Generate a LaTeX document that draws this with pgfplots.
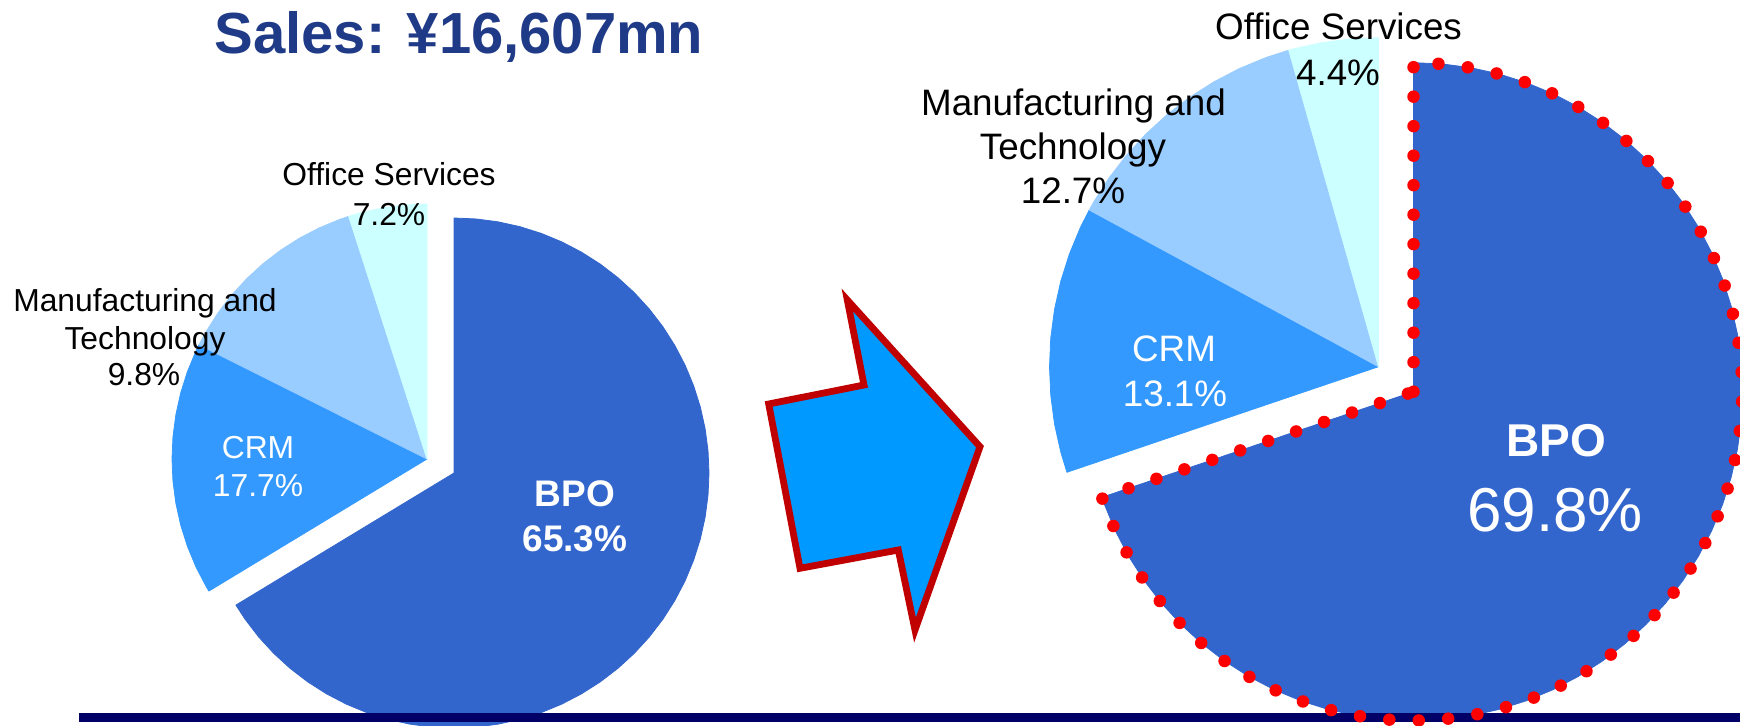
\documentclass[border=0pt]{standalone}
\usepackage{pgfplots}
\usepackage{pgfplotstable}
\pgfplotsset{compat=1.18}
\usepackage{fontspec}
\setmainfont{Liberation Sans}

\definecolor{bpo}{HTML}{3366CC}
\definecolor{crm}{HTML}{3399FF}
\definecolor{mfg}{HTML}{99CCFF}
\definecolor{ofc}{HTML}{CCFFFF}
\definecolor{titleblue}{HTML}{1F3A87}
\definecolor{rulenavy}{HTML}{000066}
\definecolor{arrowfill}{HTML}{0099FF}
\definecolor{arrowline}{HTML}{C00000}

% slices as (angle, radius), clockwise from 12 o'clock
% left pie, as drawn: BPO 238.8 deg, CRM 57.8, Mfg & Tech 45.5, Office 17.9
\pgfplotstableread[row sep=\\]{a r\\ 0 0\\ 90 1\\ 85 1\\ 80 1\\ 75 1\\ 70 1\\ 65 1\\ 60 1\\ 55 1\\ 50 1\\ 45 1\\ 40 1\\ 35 1\\ 30 1\\ 25 1\\ 20 1\\ 15 1\\ 10 1\\ 5 1\\ 0 1\\ -5 1\\ -10 1\\ -15 1\\ -20 1\\ -25 1\\ -30 1\\ -35 1\\ -40 1\\ -45 1\\ -50 1\\ -55 1\\ -60 1\\ -65 1\\ -70 1\\ -75 1\\ -80 1\\ -85 1\\ -90 1\\ -95 1\\ -100 1\\ -105 1\\ -110 1\\ -115 1\\ -120 1\\ -125 1\\ -130 1\\ -135 1\\ -140 1\\ -145 1\\ -148.8 1\\}\bpoL
\pgfplotstableread[row sep=\\]{a r\\ 0 0\\ -148.8 1\\ -150 1\\ -155 1\\ -160 1\\ -165 1\\ -170 1\\ -175 1\\ -180 1\\ -185 1\\ -190 1\\ -195 1\\ -200 1\\ -205 1\\ -206.6 1\\}\crmL
\pgfplotstableread[row sep=\\]{a r\\ 0 0\\ -206.6 1\\ -210 1\\ -215 1\\ -220 1\\ -225 1\\ -230 1\\ -235 1\\ -240 1\\ -245 1\\ -250 1\\ -252.1 1\\}\mfgL
\pgfplotstableread[row sep=\\]{a r\\ 0 0\\ -252.1 1\\ -255 1\\ -260 1\\ -265 1\\ -270 1\\}\ofcL

% right pie: BPO 69.8, CRM 13.1, Mfg & Tech 12.7, Office 4.4
\pgfplotstableread[row sep=\\]{a r\\ 0 0\\ 90 1\\ 85 1\\ 80 1\\ 75 1\\ 70 1\\ 65 1\\ 60 1\\ 55 1\\ 50 1\\ 45 1\\ 40 1\\ 35 1\\ 30 1\\ 25 1\\ 20 1\\ 15 1\\ 10 1\\ 5 1\\ 0 1\\ -5 1\\ -10 1\\ -15 1\\ -20 1\\ -25 1\\ -30 1\\ -35 1\\ -40 1\\ -45 1\\ -50 1\\ -55 1\\ -60 1\\ -65 1\\ -70 1\\ -75 1\\ -80 1\\ -85 1\\ -90 1\\ -95 1\\ -100 1\\ -105 1\\ -110 1\\ -115 1\\ -120 1\\ -125 1\\ -130 1\\ -135 1\\ -140 1\\ -145 1\\ -150 1\\ -155 1\\ -160 1\\ -161.28 1\\}\bpoR
\pgfplotstableread[row sep=\\]{a r\\ 0 0\\ -161.28 1\\ -165 1\\ -170 1\\ -175 1\\ -180 1\\ -185 1\\ -190 1\\ -195 1\\ -200 1\\ -205 1\\ -208.44 1\\}\crmR
\pgfplotstableread[row sep=\\]{a r\\ 0 0\\ -208.44 1\\ -210 1\\ -215 1\\ -220 1\\ -225 1\\ -230 1\\ -235 1\\ -240 1\\ -245 1\\ -250 1\\ -254.16 1\\}\mfgR
\pgfplotstableread[row sep=\\]{a r\\ 0 0\\ -254.16 1\\ -255 1\\ -260 1\\ -265 1\\ -270 1\\}\ofcR

\pgfplotsset{
  pie/.style={scale only axis, axis lines=none, clip=false,
    xmin=-1, xmax=1, ymin=-1, ymax=1, anchor=origin},
  slice/.style={data cs=polar, line width=0.4bp, line join=round},
}
\tikzset{lbl/.style={anchor=base, inner sep=0pt}}

\begin{document}
\begin{tikzpicture}
% left pie
\begin{axis}[pie, width=255bp, height=255bp, at={(213.5bp,133.5bp)}]
  \addplot[slice, fill=bpo, draw=bpo, xshift=13.5bp, yshift=-7bp] table[x=a,y=r] {\bpoL} -- cycle;
  \addplot[slice, fill=crm, draw=crm] table[x=a,y=r] {\crmL} -- cycle;
  \addplot[slice, fill=mfg, draw=mfg] table[x=a,y=r] {\mfgL} -- cycle;
  \addplot[slice, fill=ofc, draw=ofc] table[x=a,y=r] {\ofcL} -- cycle;
\end{axis}
% right pie
\begin{axis}[pie, width=329bp, height=329bp, at={(689.25bp,179.65bp)}]
  \addplot[slice, fill=bpo, draw=bpo, xshift=17.5bp, yshift=-12.5bp] table[x=a,y=r] {\bpoR} -- cycle;
  \addplot[slice, fill=crm, draw=crm] table[x=a,y=r] {\crmR} -- cycle;
  \addplot[slice, fill=mfg, draw=mfg] table[x=a,y=r] {\mfgR} -- cycle;
  \addplot[slice, fill=ofc, draw=ofc] table[x=a,y=r] {\ofcR} -- cycle;
\end{axis}
% canvas in pixel units, y downwards
\begin{axis}[scale only axis, width=870bp, height=363bp, at={(0,0)}, anchor=south west,
  xmin=0, xmax=1740, ymin=0, ymax=726, y dir=reverse, axis lines=none, clip=false]
  \addplot[rulenavy, line width=4.5bp] table[row sep=\\] {x y\\ 79 717.5\\ 1745 717.5\\};
  \addplot[fill=arrowfill, draw=arrowline, line width=3.4bp] table[row sep=\\]
    {x y\\ 847.3 300\\ 980 446.7\\ 915 630\\ 898.3 550\\ 800 568.3\\ 768.7 404\\ 864 385\\} -- cycle;

  \node[lbl, text=titleblue, font=\bfseries\fontsize{29bp}{34bp}\selectfont] at (axis cs:459,54) {Sales: ¥16,607mn};

  \begin{scope}[every node/.append style={font=\fontsize{15.9bp}{19bp}\selectfont}]
    \node[lbl] at (axis cs:389,185) {Office Services};
    \node[lbl] at (axis cs:389,225) {7.2\%};
    \node[lbl] at (axis cs:145,311) {Manufacturing and};
    \node[lbl] at (axis cs:145,349) {Technology};
    \node[lbl] at (axis cs:144,385) {9.8\%};
    \node[lbl, text=white] at (axis cs:258,458.3) {CRM};
    \node[lbl, text=white] at (axis cs:258,496.7) {17.7\%};
  \end{scope}
  \node[lbl, text=white, font=\bfseries\fontsize{18.5bp}{22bp}\selectfont] at (axis cs:575,506.7) {BPO};
  \node[lbl, text=white, font=\bfseries\fontsize{18.5bp}{22bp}\selectfont] at (axis cs:575,551.7) {65.3\%};

  \begin{scope}[every node/.append style={font=\fontsize{18.4bp}{22bp}\selectfont}]
    \node[lbl] at (axis cs:1338.5,40) {Office Services};
    \node[lbl] at (axis cs:1338,85) {4.4\%};
    \node[lbl] at (axis cs:1073.5,115) {Manufacturing and};
    \node[lbl] at (axis cs:1073,159) {Technology};
    \node[lbl] at (axis cs:1073,203.3) {12.7\%};
    \node[lbl, text=white] at (axis cs:1174,361.7) {CRM};
    \node[lbl, text=white] at (axis cs:1175,406) {13.1\%};
  \end{scope}
  \node[lbl, text=white, font=\bfseries\fontsize{23bp}{27bp}\selectfont] at (axis cs:1556,456.7) {BPO};
  \node[lbl, text=white, font=\fontsize{31bp}{36bp}\selectfont] at (axis cs:1555,531.7) {69.8\%};
\end{axis}
% dotted outline of the right BPO slice
\begin{axis}[pie, width=329bp, height=329bp, at={(689.25bp,179.65bp)}]
  \addplot[data cs=polar, draw=red, line width=6.25bp, line cap=round,
    dash pattern=on 0pt off 14.75bp, xshift=17.5bp, yshift=-12.5bp] table[x=a,y=r] {\bpoR} -- cycle;
\end{axis}
\pgfresetboundingbox
\path[use as bounding box] (0,0) rectangle (870bp,363bp);
\end{tikzpicture}
\end{document}
